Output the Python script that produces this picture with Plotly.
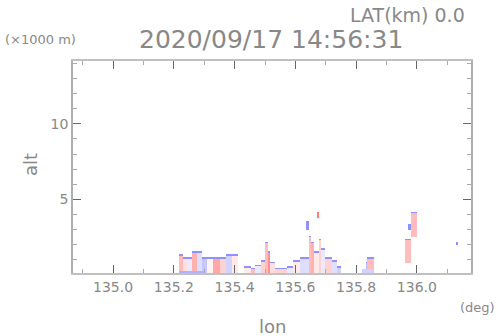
import numpy as np
import plotly.graph_objects as go

# ---- data: echo segments (lon start, lon end, bottom alt km, top alt km, interior value, top-edge value)
seg_lon0 = [135.217, 135.230, 135.243, 135.260, 135.276, 135.293, 135.309, 135.329, 135.352, 135.372, 135.391,
            135.428, 135.451, 135.467, 135.484, 135.500, 135.510, 135.516, 135.533, 135.572, 135.592, 135.615,
            135.645, 135.651, 135.661, 135.678, 135.684, 135.697, 135.720, 135.737,
            135.671, 135.635, 135.819, 135.832, 135.836, 135.961, 135.980, 135.970, 136.130,
            135.217, 135.819]
seg_lon1 = [135.230, 135.243, 135.260, 135.276, 135.293, 135.309, 135.329, 135.352, 135.372, 135.391, 135.411,
            135.451, 135.467, 135.484, 135.500, 135.510, 135.516, 135.533, 135.572, 135.592, 135.615, 135.645,
            135.651, 135.661, 135.678, 135.684, 135.697, 135.720, 135.737, 135.750,
            135.678, 135.645, 135.836, 135.836, 135.859, 135.980, 136.000, 135.980, 136.135,
            135.300, 135.859]
seg_bot = [0.1, 0.1, 0.1, 0.1, 0.1, 0.1, 0.1, 0.1, 0.1, 0.1, 0.1,
           0.1, 0.1, 0.1, 0.1, 0.1, 0.1, 0.1, 0.1, 0.1, 0.1, 0.1,
           0.1, 0.1, 0.1, 0.1, 0.1, 0.1, 0.1, 0.1,
           3.8, 3.0, 0.1, 0.1, 0.1, 0.8, 2.5, 3.0, 2.0,
           0.1, 0.1]
seg_top = [1.4, 1.2, 1.2, 1.6, 1.6, 1.2, 1.2, 1.2, 1.2, 1.4, 1.4,
           0.6, 0.5, 0.7, 1.0, 2.2, 1.6, 0.9, 0.5, 0.6, 1.0, 1.2,
           2.6, 2.2, 1.6, 2.4, 1.8, 1.2, 1.0, 0.6,
           4.2, 3.6, 0.4, 0.9, 1.2, 2.4, 4.2, 3.4, 2.2,
           0.3, 0.4]
seg_val = [0.3, 0.15, -0.1, 0.35, -0.15, -0.25, 0.05, 0.4, 0.2, -0.2, 0.1,
           0.1, 0.3, -0.1, 0.2, 0.3, 0.5, 0.15, 0.2, -0.1, 0.1, -0.15,
           0.3, 0.35, 0.1, 0.2, -0.1, 0.2, -0.15, -0.2,
           0.6, -0.5, -0.3, -0.3, 0.3, 0.3, 0.3, -0.5, -0.5,
           -0.35, -0.2]
seg_edge = [-0.5] * 30 + [0.6, -0.5, -0.5, -0.5, -0.5, -0.5, -0.5, -0.5, -0.5, -0.35, -0.2]

x_tickvals = [135.0, 135.2, 135.4, 135.6, 135.8, 136.0]
x_ticktext = ["135.0", "135.2", "135.4", "135.6", "135.8", "136.0"]
y_tickvals = [5, 10]
y_ticktext = ["5", "10"]

# ---- grid built from the segments
dlon, dalt = 0.0033, 0.1
lon = np.arange(134.87, 136.18, dlon)
alt = np.arange(0.05, 14.2, dalt)
z = np.full((len(alt), len(lon)), np.nan)
for l0, l1, b, t, v, e in zip(seg_lon0, seg_lon1, seg_bot, seg_top, seg_val, seg_edge):
    ci = (lon >= l0 - 1e-9) & (lon < l1)
    ri = np.where((alt >= b - 1e-9) & (alt < t))[0]
    if len(ri) == 0:
        continue
    for r in ri:
        z[r, ci] = v
    z[ri[-1], ci] = e

bwr = [[0, "#2020ff"], [0.5, "#ffffff"], [1, "#ff2020"]]

fig = go.Figure(go.Heatmap(x=lon, y=alt, z=z, colorscale=bwr, zmin=-1, zmax=1,
                           showscale=False, hoverinfo="skip"))

txt = "#888888"
font = "DejaVu Sans"
L, R, T, B = 73, 27, 61, 63
W, H = 498, 336
pw, ph = W - L - R, H - T - B


def ann(text, px, py, size, angle=0):
    return dict(text=text, xref="paper", yref="paper", x=(px - L) / pw, y=(H - B - py) / ph,
                xanchor="center", yanchor="middle", showarrow=False, textangle=angle,
                font=dict(size=size, color=txt, family=font))


fig.update_layout(
    width=W, height=H,
    margin=dict(l=L, r=R, t=T, b=B, autoexpand=False),
    paper_bgcolor="white", plot_bgcolor="white",
    font=dict(family=font, color=txt, size=13),
    xaxis=dict(range=[134.868, 136.178], tickvals=x_tickvals, ticktext=x_ticktext,
               ticks="inside", ticklen=8, tickcolor="#666", showgrid=False, zeroline=False,
               showline=True, linecolor="#c0c0c0", linewidth=2, mirror="ticks",
               minor=dict(dtick=0.1, tick0=135.0, ticks="inside", ticklen=4, tickcolor="#aaa"),
               tickfont=dict(size=14, color=txt)),
    yaxis=dict(range=[0.13, 14.15], tickvals=y_tickvals, ticktext=y_ticktext,
               ticks="inside", ticklen=8, tickcolor="#666", showgrid=False, zeroline=False,
               showline=True, linecolor="#b0b0b0", linewidth=1.5, mirror="ticks",
               minor=dict(dtick=1, tick0=0, ticks="inside", ticklen=4, tickcolor="#aaa"),
               tickfont=dict(size=14, color=txt)),
    annotations=[
        ann("LAT(km) 0.0", 407, 15, 19),
        ann("2020/09/17 14:56:31", 271, 40, 25),
        ann("(\u00d71000 m)", 40, 40, 13),
        ann("alt", 30, 165, 18, -90),
        ann("lon", 272, 326, 18),
        ann("(deg)", 478, 307, 13),
    ],
)

fig.write_html("out.html", config={"displayModeBar": False},
               post_script="document.body.style.margin='0';")
